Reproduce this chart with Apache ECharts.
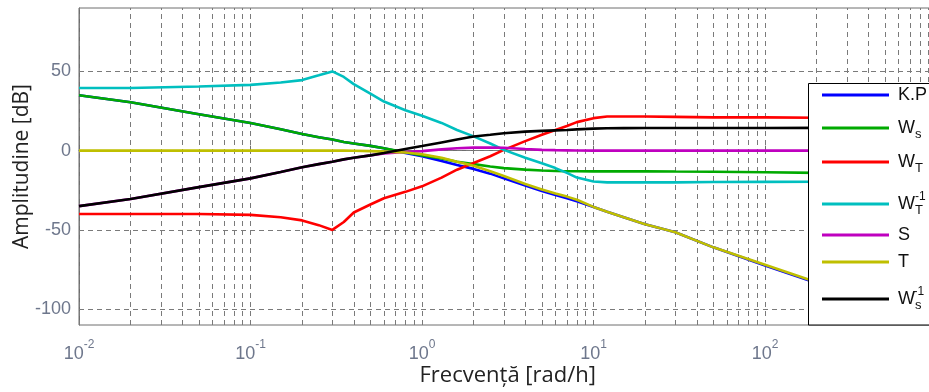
<!DOCTYPE html>
<html>
<head>
<meta charset="utf-8">
<script src="https://cdn.jsdelivr.net/npm/echarts@6/dist/echarts.min.js"></script>
<style>html,body{margin:0;padding:0;background:#fff;}#c{width:929px;height:392px;}</style>
</head>
<body>
<div id="c"></div>
<script>
// ---- data ----
const freq = [0.01, 0.02, 0.05, 0.1, 0.15, 0.2, 0.25, 0.3, 0.35, 0.4, 0.5, 0.6, 0.8, 1, 1.3, 1.6, 2, 2.5, 3, 4, 5, 6, 7, 8, 10, 12, 15, 20, 30, 50, 100, 200, 500, 1000];
const seriesNames = ['K.P', 'Ws', 'WT', 'WT^-1', 'S', 'T', 'Ws^-1'];
const kp   = [35, 30.5, 23, 17.5, 13.5, 10.5, 8.5, 7, 5.5, 4.5, 3, 1.5, -1.5, -3.5, -6.5, -9, -11.5, -14.5, -17.5, -22, -25.5, -28, -30, -32, -35.5, -38.5, -42, -46.5, -51.5, -61, -72.5, -83.5, -98.5, -110];
const ws   = [35, 30.5, 23, 17.5, 13.5, 10.5, 8.5, 7, 5.5, 4.5, 3, 1.5, -1, -3, -5, -7, -8.5, -10, -11, -12, -12.5, -12.8, -13, -13, -13.1, -13.1, -13.1, -13.1, -13.2, -13.3, -13.6, -14, -14.2, -14.3];
const wt   = [-40, -40, -40, -40.5, -42, -44, -47, -50, -45, -39, -34, -30, -26, -22.5, -17, -12, -7.8, -3.5, 0.5, 6, 10, 13, 15.5, 18, 20.5, 21.5, 21.5, 21.5, 21.3, 21, 21, 20.8, 20.5, 20.5];
const wtInv= [39.5, 39.5, 40.5, 41.5, 43, 44.5, 47.5, 50, 46.5, 42, 36, 31, 25.5, 22, 17.5, 13, 9, 4.5, 0.5, -4.5, -8, -11, -14, -17, -19.5, -20, -20, -20, -20, -19.8, -19.7, -19.6, -19.5, -19.5];
const sens = [-35, -30.5, -23, -17.5, -13.5, -10.5, -8.5, -7, -5.5, -4.5, -3, -1.8, -0.9, -0.3, 0.8, 1.5, 1.9, 2, 1.8, 1, 0.5, 0.3, 0.2, 0.1, 0, 0, 0, 0, 0, 0, 0, 0, 0, 0];
const tcomp= [0, 0, 0, 0, 0, 0, 0, 0, 0, -0.1, -0.3, -0.6, -1.2, -2.3, -4.5, -7, -9.5, -13, -16, -21, -24.5, -27, -29, -31, -35.5, -38.5, -42, -46.5, -51.5, -61, -72, -83, -98, -110];
const wsInv= [-35, -30.5, -23, -17.5, -13.5, -10.5, -8.5, -7, -5.5, -4.5, -3, -1.5, 1, 2.9, 5.2, 7, 8.9, 10, 11, 12, 12.5, 12.8, 13, 13.4, 13.9, 14.1, 14.2, 14.3, 14.3, 14.3, 14.3, 14.4, 14.5, 14.5];
const yTicks = [-100, -50, 0, 50];
const decades = [0.01, 0.1, 1, 10, 100];
const minorMult = [1, 2, 3, 4, 5, 6, 7, 8, 9];
// ---- end data ----

const colors = ['#0000ff', '#00aa00', '#ff0000', '#00bfbf', '#bf00bf', '#bfbf00', '#000000'];
const values = [kp, ws, wt, wtInv, sens, tcomp, wsInv];
const legendLabels = [
  '{m|K.P}',
  '{m|W}{sb|s}',
  '{m|W}{sb|T}',
  '{m|W}{sb|T}{sp|-1}',
  '{m|S}',
  '{m|T}',
  '{m|W}{sb|s}{sp|-1}'
];
const legendCenters = [99, 132, 166, 204, 239, 266, 299];

const gridX = [];
decades.forEach(d => minorMult.forEach(m => gridX.push(d * m)));
gridX.push(1000);

const chart = echarts.init(document.getElementById('c'), null, {renderer: 'canvas'});
const gridStyle = {color: '#7a7a7a', width: 1, type: [5, 4]};

const series = [{
  type: 'line',
  data: [[0.01, 0]],
  showSymbol: false,
  lineStyle: {opacity: 0},
  silent: true,
  z: 1,
  markLine: {
    z: 1,
    silent: true,
    symbol: ['none', 'none'],
    label: {show: false},
    lineStyle: gridStyle,
    emphasis: {disabled: true},
    animation: false,
    data: gridX.map(v => ({xAxis: v})).concat(yTicks.map(v => ({yAxis: v})))
  }
}];
seriesNames.forEach((n, i) => {
  series.push({
    name: n,
    type: 'line',
    data: freq.map((f, j) => [f, values[i][j]]),
    showSymbol: false,
    symbol: 'none',
    lineStyle: {color: colors[i], width: 2.6},
    itemStyle: {color: colors[i]},
    z: 2 + i,
    emphasis: {disabled: true},
    animation: false
  });
});

const legendRich = {
  m: {fontFamily: 'Liberation Sans', fontSize: 18, color: '#111', lineHeight: 26, padding: [0, 0, 0, 4]},
  sb: {fontFamily: 'Liberation Sans', fontSize: 13, color: '#111', lineHeight: 12, verticalAlign: 'bottom'},
  sp: {fontFamily: 'Liberation Sans', fontSize: 12, color: '#111', lineHeight: 11, verticalAlign: 'top', padding: [0, 0, 0, -8]}
};

const legends = seriesNames.map((n, i) => ({
  data: [n],
  orient: 'vertical',
  left: 822,
  top: legendCenters[i] - 13,
  padding: 0,
  icon: 'rect',
  itemWidth: 67,
  itemHeight: 3,
  z: 20,
  selectedMode: false,
  formatter: () => legendLabels[i],
  textStyle: {rich: legendRich}
}));

chart.setOption({
  backgroundColor: '#ffffff',
  animation: false,
  grid: {left: 79, top: 8, right: -7.5, bottom: 67, outerBoundsMode: 'none', containLabel: false, show: true, borderColor: '#6e6e6e', borderWidth: 1, backgroundColor: 'transparent'},
  xAxis: {
    type: 'log',
    logBase: 10,
    min: 0.01,
    max: 1000,
    splitNumber: 5,
    name: 'Frecvență [rad/h]',
    nameLocation: 'middle',
    nameGap: 40,
    nameMoveOverlap: false,
    nameTextStyle: {fontFamily: 'Open Sans', fontSize: 22, color: '#222'},
    axisLine: {show: true, lineStyle: {color: '#6e6e6e', width: 1}},
    axisTick: {show: true, inside: true, length: 5, lineStyle: {color: '#6e6e6e'}},
    splitLine: {show: false},
    axisLabel: {
      margin: 14,
      formatter: v => {
        const e = Math.round(Math.log10(v));
        if (e >= 3) return '';
        return '{b|10}{s|' + e + '}';
      },
      rich: {
        b: {fontFamily: 'Liberation Sans', fontSize: 18, color: '#6e778c', padding: [6, 0, 0, 0]},
        s: {fontFamily: 'Liberation Sans', fontSize: 12, color: '#6e778c', verticalAlign: 'top'}
      }
    }
  },
  yAxis: {
    type: 'value',
    min: -110,
    max: 90,
    name: 'Amplitudine [dB]',
    nameLocation: 'middle',
    nameGap: 46,
    nameMoveOverlap: false,
    nameTextStyle: {fontFamily: 'Open Sans', fontSize: 21, color: '#222'},
    axisLine: {show: true, lineStyle: {color: '#6e6e6e', width: 1}},
    axisTick: {show: true, inside: true, length: 5, customValues: yTicks, lineStyle: {color: '#6e6e6e'}},
    splitLine: {show: false},
    axisLabel: {
      customValues: yTicks,
      margin: 8,
      fontFamily: 'Liberation Sans',
      fontSize: 18,
      color: '#6e778c'
    }
  },
  legend: legends,
  graphic: [{
    type: 'rect',
    z: 10,
    shape: {x: 808.5, y: 83.5, width: 140, height: 241.5},
    style: {fill: '#ffffff', stroke: '#000000', lineWidth: 1}
  }],
  series: series
});
</script>
</body>
</html>
